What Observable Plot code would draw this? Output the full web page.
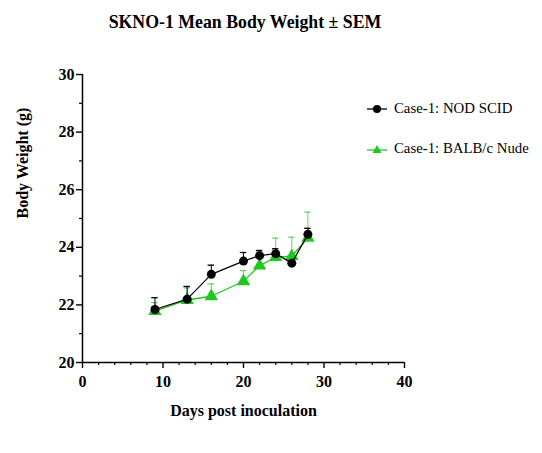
<!DOCTYPE html>
<html>
<head>
<meta charset="utf-8">
<script src="https://cdn.jsdelivr.net/npm/d3@7"></script>
<script src="https://cdn.jsdelivr.net/npm/@observablehq/plot@0.6"></script>
<style>
  body { margin: 0; background: #fff; font-family: "Liberation Serif", "Times New Roman", serif; }
  #wrap { position: relative; width: 542px; height: 453px; }
  #title { position: absolute; left: 0; top: 12px; width: 490px; text-align: center;
           font-weight: bold; font-size: 17.8px; color: #000; }
  #chart { position: absolute; left: 0; top: 40px; }
  #chart svg, #chart svg text { font-family: "Liberation Serif", "Times New Roman", serif !important; }
  .legend { position: absolute; left: 366px; font-family: "Liberation Serif", "Times New Roman", serif;
            font-size: 14.8px; color: #000; display: flex; align-items: center; }
  .legend svg { margin-right: 6px; }
</style>
</head>
<body>
<div id="wrap">
  <div id="title">SKNO-1 Mean Body Weight ± SEM</div>
  <div id="chart"></div>
  <div class="legend" style="top:100px">
    <svg width="22" height="14"><line x1="1" y1="7" x2="21" y2="7" stroke="#000" stroke-width="1.3"/><circle cx="11" cy="7" r="4" fill="#000"/></svg>
    <span>Case-1: NOD SCID</span>
  </div>
  <div class="legend" style="top:140px">
    <svg width="22" height="14"><line x1="1" y1="8" x2="21" y2="8" stroke="#1ec81e" stroke-width="1.3"/><path d="M11,3 L15.5,11 L6.5,11 Z" fill="#1ec81e"/></svg>
    <span>Case-1: BALB/c Nude</span>
  </div>
</div>
<script>
// Days of measurement
const days = [9, 13, 16, 20, 22, 24, 26, 28];

// Case-1: NOD SCID — mean body weight (g) and SEM
const nodMean = [21.84, 22.20, 23.06, 23.52, 23.71, 23.78, 23.45, 24.45];
const nodSem  = [0.41, 0.44, 0.32, 0.30, 0.18, 0.17, 0.00, 0.21];

// Case-1: BALB/c Nude — mean body weight (g) and SEM
const balbMean = [21.78, 22.17, 22.30, 22.82, 23.36, 23.66, 23.69, 24.33];
const balbSem  = [0.30, 0.42, 0.43, 0.37, 0.51, 0.66, 0.66, 0.89];

const yMajor = [20, 22, 24, 26, 28, 30];
const yMinor = [21, 23, 25, 27, 29];
const xMajor = [0, 10, 20, 30, 40];
const xMinor = [2, 4, 6, 8, 12, 14, 16, 18, 22, 24, 26, 28, 32, 34, 36, 38];

const nod = days.map((d, i) => ({day: d, mean: nodMean[i], sem: nodSem[i]}));
const balb = days.map((d, i) => ({day: d, mean: balbMean[i], sem: balbSem[i]}));

const serif = "'Liberation Serif', 'Times New Roman', serif";
const green = "#1ec81e";
const capHalf = 0.4; // half-width of error-bar caps, in days

const plot = Plot.plot({
  width: 542,
  height: 413,
  marginLeft: 82,
  marginRight: 138,
  marginTop: 34,
  marginBottom: 91,
  style: {fontFamily: serif, background: "#fff", color: "#000"},
  x: {domain: [0, 40]},
  y: {domain: [20, 30]},
  marks: [
    // axes
    Plot.axisY({ticks: yMajor, tickSize: 6, tickPadding: 2, tickFormat: d => d, fontSize: 16, fontWeight: "bold",
                fontFamily: serif, strokeWidth: 1.4, label: null}),
    Plot.axisY({ticks: yMinor, tickSize: 3, tickFormat: () => "", strokeWidth: 1.2, label: null}),
    Plot.axisX({ticks: xMajor, tickSize: 6, tickPadding: 7, tickFormat: d => d, fontSize: 16, fontWeight: "bold",
                fontFamily: serif, strokeWidth: 1.4, label: null}),
    Plot.axisX({ticks: xMinor, tickSize: 3, tickFormat: () => "", strokeWidth: 1.2, label: null}),
    Plot.ruleX([0], {y1: 20, y2: 30, strokeWidth: 1.5}),
    Plot.ruleY([20], {x1: 0, x2: 40, strokeWidth: 1.5}),
    Plot.text(["Body Weight (g)"], {frameAnchor: "left", dx: -60, rotate: -90, fontSize: 16, fontWeight: "bold", fontFamily: serif}),
    Plot.text(["Days post inoculation"], {frameAnchor: "bottom", dy: 53, fontSize: 16, fontWeight: "bold", fontFamily: serif}),

    // BALB/c Nude
    Plot.ruleX(balb, {x: "day", y1: "mean", y2: d => d.mean + d.sem, stroke: green, strokeWidth: 1, strokeOpacity: 0.7}),
    Plot.ruleY(balb, {y: d => d.mean + d.sem, x1: d => d.day - capHalf, x2: d => d.day + capHalf, stroke: green, strokeWidth: 1.2, strokeOpacity: 0.7}),
    Plot.line(balb, {x: "day", y: "mean", stroke: green, strokeWidth: 1.3}),
    Plot.dot(balb, {x: "day", y: "mean", symbol: "triangle", r: 5, fill: green, stroke: "none"}),

    // NOD SCID
    Plot.ruleX(nod, {x: "day", y1: "mean", y2: d => d.mean + d.sem, stroke: "#000", strokeWidth: 1}),
    Plot.ruleY(nod.filter(d => d.sem > 0), {y: d => d.mean + d.sem, x1: d => d.day - capHalf, x2: d => d.day + capHalf, stroke: "#000", strokeWidth: 1.3}),
    Plot.line(nod, {x: "day", y: "mean", stroke: "#000", strokeWidth: 1.2}),
    Plot.dot(nod, {x: "day", y: "mean", r: 4.5, fill: "#000", stroke: "none"})
  ]
});

document.getElementById("chart").appendChild(plot);
</script>
</body>
</html>
